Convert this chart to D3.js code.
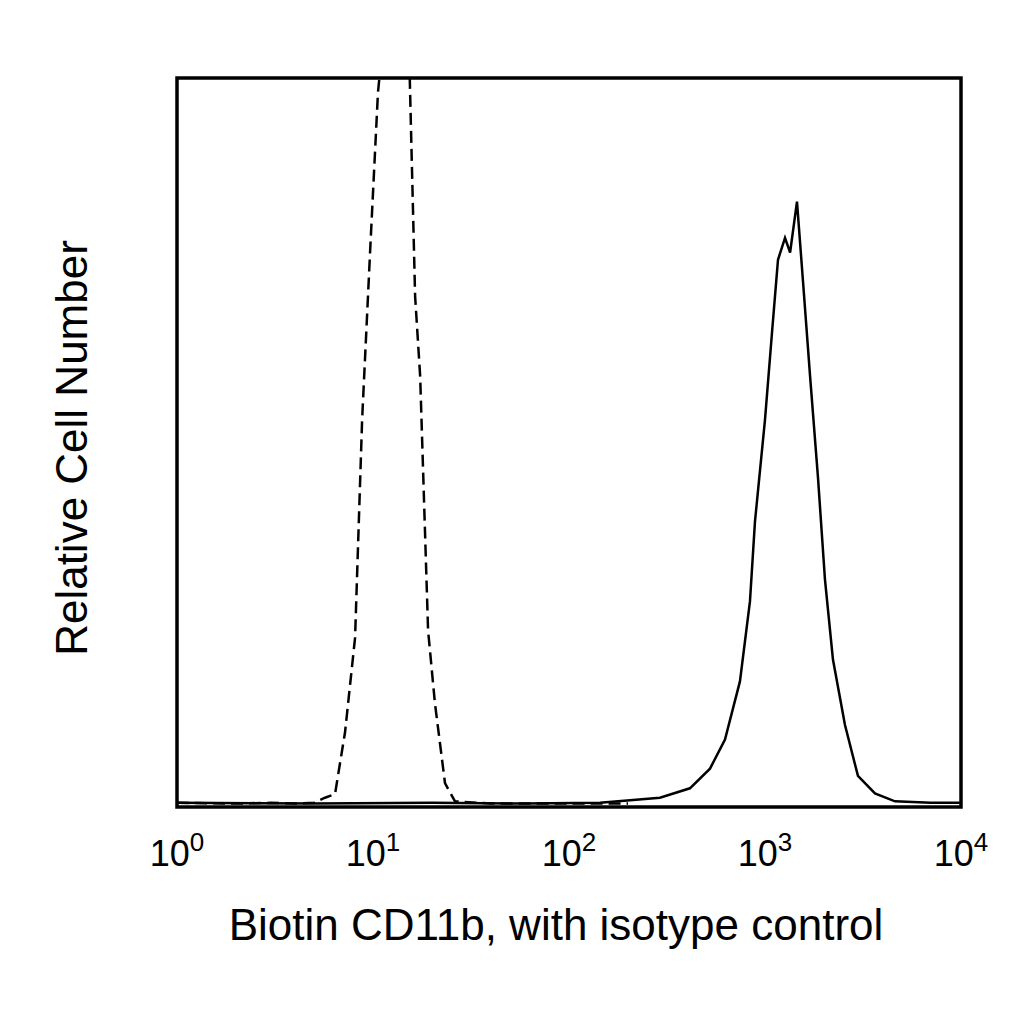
<!DOCTYPE html>
<html><head><meta charset="utf-8">
<script src="https://cdn.jsdelivr.net/npm/d3@7/dist/d3.min.js"></script>
<style>body{margin:0;background:#fff}</style></head>
<body><svg id="c" width="1024" height="1024"></svg>
<script>
const solidX=[1,5,20,60,144,291,414,524,625,745,838,889,1000,1086,1165,1265,1343,1456,1563,1698,1864,2023,2222,2559,2980,3640,4603,7000,10000];
const solidY=[0.3,0.2,0.3,0.2,0.3,1,2.3,5,9,17,28,39,53,65,75,78,76,83,72,59,45,31,20,11,4,1.6,0.5,0.3,0.3];
const dashX=[1,2,3,4,5,5.69,6.4,7.2,8.1,8.8,9.7,10.6,12.2,13.7,15.4,16.4,17.4,19.1,20.7,23.3,26.2,40,100,200];
const dashY=[0.3,0.2,0.3,0.2,0.3,1,1.5,10,23,53,77,98,115,112,100,70,59,24,14,3,0.5,0.2,0.2,0.2];
const tickVals=[1,10,100,1000,10000];
const tickExp=["0","1","2","3","4"];
const L=177,R=961,T=78,B=807;
const svg=d3.select("#c");
const x=d3.scaleLog().domain([1,10000]).range([L,R]);
const y=d3.scaleLinear().domain([0,100]).range([B-2,T]);
svg.append("clipPath").attr("id","cp").append("rect").attr("x",L).attr("y",T).attr("width",R-L).attr("height",B-T);
const line=d3.line().x(d=>x(d[0])).y(d=>y(d[1]));
const g=svg.append("g").attr("clip-path","url(#cp)");
g.append("path").attr("d",line(dashX.map((v,i)=>[v,dashY[i]]))).attr("fill","none").attr("stroke","#000").attr("stroke-width",2.5).attr("stroke-dasharray","12,6");
g.append("path").attr("d",line(solidX.map((v,i)=>[v,solidY[i]]))).attr("fill","none").attr("stroke","#000").attr("stroke-width",2.5);
svg.append("rect").attr("x",L).attr("y",T).attr("width",R-L).attr("height",B-T).attr("fill","none").attr("stroke","#000").attr("stroke-width",3.5);
const tg=svg.append("g").attr("font-family","Liberation Sans, Arial").attr("fill","#000");
tickVals.forEach((v,i)=>{
  const t=tg.append("text").attr("x",x(v)).attr("y",866).attr("text-anchor","middle").attr("font-size",36);
  t.append("tspan").text("10");
  t.append("tspan").attr("dy",-15).attr("font-size",26).text(tickExp[i]);
});
tg.append("text").attr("x",556).attr("y",940).attr("text-anchor","middle").attr("font-size",44).text("Biotin CD11b, with isotype control");
tg.append("text").attr("transform","translate(87,448) rotate(-90)").attr("text-anchor","middle").attr("font-size",44).text("Relative Cell Number");
</script></body></html>
